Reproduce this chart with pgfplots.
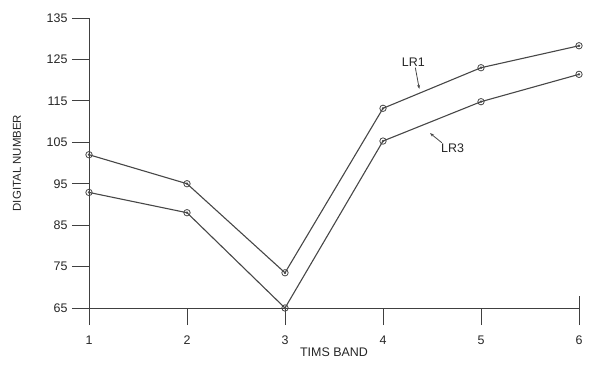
\documentclass[border=0pt]{standalone}
\usepackage{pgfplots}
\pgfplotsset{compat=1.18}
\usepackage{fontspec}
\setmainfont{Liberation Sans}
\usetikzlibrary{arrows.meta}
\definecolor{ln}{gray}{0.28}
\begin{document}
\begin{tikzpicture}
\begin{axis}[
  width=490bp, height=290bp, scale only axis,
  xmin=1, xmax=6, ymin=65, ymax=135,
  axis lines=left,
  axis line style={-, line width=0.9bp, color=black!75},
  xtick={1,2,3,4,5,6}, ytick={65,75,...,135},
  xtick align=outside, ytick align=outside,
  major tick length=17bp,
  every tick/.style={line width=0.9bp, color=black!75},
  /pgf/number format/assume math mode=true,
  ticklabel style={font=\fontsize{12.5}{14}\selectfont, color=black!85},
  yticklabel style={xshift=-1bp},
  xticklabel style={yshift=-7bp},
  clip=false,
]
\addplot[ln, line width=1.1bp, mark=o, mark size=3.2bp, mark options={line width=0.8bp, fill=white}] coordinates {(1,102) (2,95) (3,73.5) (4,113.2) (5,123) (6,128.3)};
\addplot[ln, only marks, mark=*, mark size=1bp] coordinates {(1,102) (2,95) (3,73.5) (4,113.2) (5,123) (6,128.3)};
\addplot[ln, line width=1.1bp, mark=o, mark size=3.2bp, mark options={line width=0.8bp, fill=white}] coordinates {(1,92.9) (2,88) (3,65) (4,105.3) (5,114.8) (6,121.4)};
\addplot[ln, only marks, mark=*, mark size=1bp] coordinates {(1,92.9) (2,88) (3,65) (4,105.3) (5,114.8) (6,121.4)};
\pgfplotsinvokeforeach{1,2,3,4,5,6}{\draw[line width=0.9bp, black!75] (axis cs:#1,65) -- ([yshift=-17bp]axis cs:#1,65);}
\draw[line width=0.9bp, black!75] (axis cs:6,65) -- ([yshift=12bp]axis cs:6,65);
\node[font=\fontsize{12.5}{14}\selectfont, color=black!85] at (axis cs:4.31,124.4) {LR1};
\draw[ln, line width=0.8bp, -{Stealth[length=4bp,width=3bp]}] (axis cs:4.33,123.0) -- (axis cs:4.37,117.9);
\node[font=\fontsize{12.5}{14}\selectfont, color=black!85] at (axis cs:4.71,103.6) {LR3};
\draw[ln, line width=0.8bp, -{Stealth[length=4bp,width=3bp]}] (axis cs:4.60,104.9) -- (axis cs:4.48,107.2);
\node[font=\fontsize{12.5}{14}\selectfont, color=black!85, anchor=center] at ([yshift=-44bp]rel axis cs:0.5,0) {TIMS BAND};
\node[font=\fontsize{11.5}{13}\selectfont, color=black!85, anchor=center, rotate=90] at ([xshift=-72bp]rel axis cs:0,0.5) {DIGITAL NUMBER};
\end{axis}
\pgfresetboundingbox
\path (-89bp,-60bp) rectangle (509bp,308bp);
\end{tikzpicture}
\end{document}
